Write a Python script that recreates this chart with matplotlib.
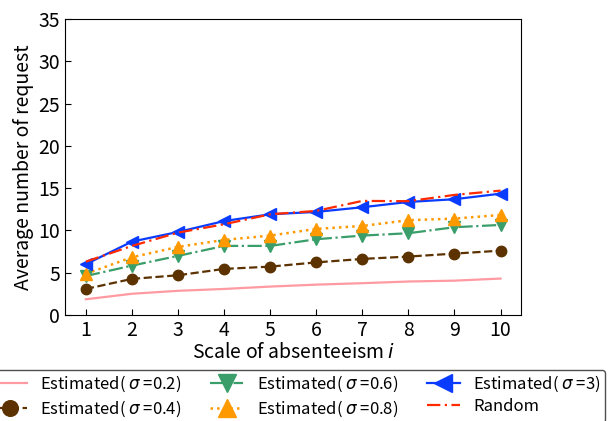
import matplotlib
matplotlib.use("Agg")
import matplotlib.pyplot as plt

plt.rcParams['font.family'] = ['Noto Sans CJK JP', 'DejaVu Sans']
plt.rcParams['mathtext.fontset'] = 'dejavusans'

# --- data ---
scale = [1, 2, 3, 4, 5, 6, 7, 8, 9, 10]
est_02 = [1.85, 2.5, 2.85, 3.07, 3.35, 3.58, 3.75, 3.95, 4.05, 4.3]
est_04 = [3.07, 4.26, 4.69, 5.44, 5.71, 6.21, 6.62, 6.9, 7.25, 7.6]
est_06 = [4.6, 5.83, 6.98, 8.16, 8.16, 8.95, 9.38, 9.66, 10.37, 10.64]
est_08 = [4.85, 6.82, 8.04, 8.87, 9.38, 10.17, 10.52, 11.2, 11.39, 11.82]
est_3 = [6.0, 8.67, 9.81, 11.1, 11.9, 12.18, 12.73, 13.36, 13.68, 14.34]
random_sel = [6.3, 8.16, 9.73, 10.72, 11.9, 12.3, 13.48, 13.45, 14.19, 14.7]

fig = plt.figure(figsize=(6.09, 4.21), dpi=100)
ax = fig.add_axes([0.107, 0.252, 0.749, 0.703])

ax.plot(scale, est_02, color='#ff9aa2', lw=1.6, ls='-',
        label=r'Estimated( $\sigma$ =0.2)')
ax.plot(scale, est_04, color='#5c3200', lw=1.6, ls='--', marker='o', ms=7.5,
        label=r'Estimated( $\sigma$ =0.4)')
ax.plot(scale, est_06, color='#3a9e6a', lw=1.6, ls='-.', marker='v', ms=8.5,
        label=r'Estimated( $\sigma$ =0.6)')
ax.plot(scale, est_08, color='#ff9900', lw=1.8, ls=':', marker='^', ms=8.5,
        label=r'Estimated( $\sigma$ =0.8)')
ax.plot(scale, est_3, color='#0a3cff', lw=1.6, ls='-', marker='<', ms=8.5,
        label=r'Estimated( $\sigma$ =3)')
ax.plot(scale, random_sel, color='#ff2a00', lw=1.6, ls=(0, (6, 2, 1, 2)),
        label='Random')

ax.set_xlim(0.55, 10.45)
ax.set_ylim(0, 35)
ax.set_xticks(scale)
ax.set_yticks(range(0, 36, 5))
ax.tick_params(direction='in', labelsize=14, length=4)
ax.set_xlabel(r'Scale of absenteeism $i$', fontsize=14, labelpad=1)
ax.set_ylabel('Average number of request', fontsize=14, labelpad=3)

leg = fig.legend(loc='upper center', bbox_to_anchor=(0.488, 0.142), ncol=3,
                 fontsize=12, frameon=True, edgecolor='#222222',
                 handlelength=2.0, columnspacing=1.72, borderpad=0.25,
                 labelspacing=0.25, handletextpad=0.8, markerscale=1.5)
leg.get_frame().set_linewidth(1.0)

fig.savefig('out.png', dpi=100)
